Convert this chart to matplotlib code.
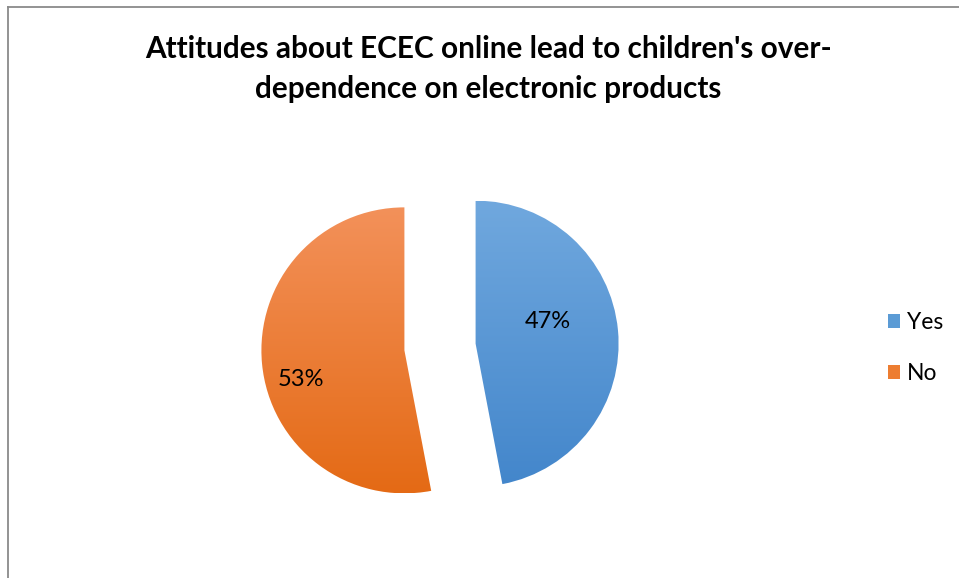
import numpy as np
import matplotlib
matplotlib.use("Agg")
import matplotlib.pyplot as plt
from matplotlib.colors import LinearSegmentedColormap
from matplotlib.lines import Line2D
from matplotlib.patches import Patch

labels = ["Yes", "No"]
shares = [47, 53]
# top / bottom colours of each slice's vertical gradient
grad_top = ["#70a8de", "#f3915a"]
grad_bottom = ["#4386cb", "#e46a15"]
legend_colors = ["#5b9bd5", "#ed7d31"]

title = "Attitudes about ECEC online lead to children's over-\ndependence on electronic products"

W, H = 959, 578
fig = plt.figure(figsize=(W / 100, H / 100), dpi=100)
ax = fig.add_axes([0, 0, 1, 1])

cx, cy, r = 440, H - 347, 143
gap = 0.25 * r  # pie explode is in data units here
wedges, texts = ax.pie(shares, startangle=90, counterclock=False,
                       explode=[gap, gap], center=(cx, cy), radius=r,
                       frame=True)
ax.set_xlim(0, W)
ax.set_ylim(0, H)
ax.set_aspect("equal")
ax.axis("off")

# vertical gradient inside each wedge
for w, top, bot in zip(wedges, grad_top, grad_bottom):
    w.set_facecolor("none")
    w.set_edgecolor("none")
    x0, y0 = w.center[0] - r, w.center[1] - r
    cmap = LinearSegmentedColormap.from_list("g", [bot, top])
    grad = np.linspace(0, 1, 256).reshape(-1, 1)
    im = ax.imshow(grad, cmap=cmap, origin="lower", aspect="auto",
                   extent=[x0, x0 + 2 * r, y0, y0 + 2 * r],
                   interpolation="bilinear", zorder=1)
    im.set_clip_path(w)

# percentage labels
ax.text(548, H - 322, f"{shares[0]}%", fontsize=17, family="Lato",
        ha="center", va="center", color="black", zorder=3)
ax.text(301, H - 380, f"{shares[1]}%", fontsize=17, family="Lato",
        ha="center", va="center", color="black", zorder=3)

ax.set_xlim(0, W)
ax.set_ylim(0, H)

fig.text(0.509, 1 - 69 / H, title, ha="center", va="center",
         fontsize=21.4, fontweight="bold", family="Lato", linespacing=1.55)

handles = [Patch(facecolor=c, edgecolor="none") for c in legend_colors]
fig.legend(handles, labels, loc="center left", bbox_to_anchor=(867 / W, 1 - 348 / H),
           frameon=False, prop={"family": "Lato", "size": 16.5},
           handlelength=0.55, handleheight=0.55, handletextpad=0.3,
           labelspacing=1.3)

# chart border (left and top edges visible)
fig.add_artist(Line2D([8 / W, 8 / W], [0, 1 - 7 / H], color="#8a8a8a", lw=1.3))
fig.add_artist(Line2D([8 / W, 1], [1 - 7 / H, 1 - 7 / H], color="#8a8a8a", lw=1.3))

fig.savefig("out.png", dpi=100, facecolor="white")
